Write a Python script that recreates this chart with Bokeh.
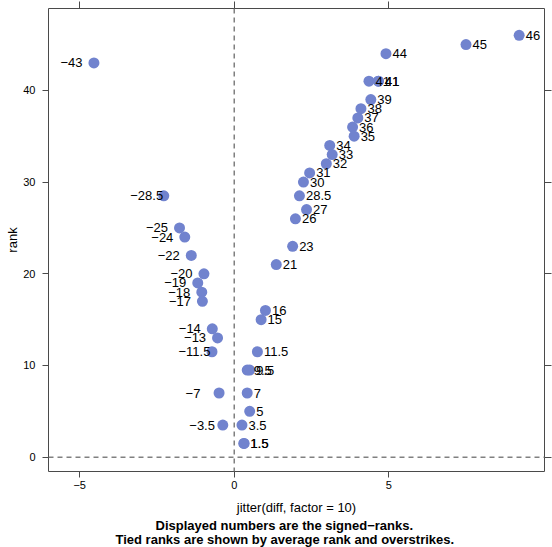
import numpy as np
from bokeh.plotting import figure
from bokeh.models import Range1d, LinearAxis, FixedTicker, Span, Title, ColumnDataSource
from bokeh.core.properties import value
from bokeh.embed import file_html
from bokeh.resources import INLINE

# ---- data ----
signed_ranks = [46, 45, 44, 41, 41, 41, 39, 38, 37, 36, 35, 34, 33, 32, 31, 30,
                28.5, 27, 26, 23, 21, 16, 15, 11.5, 9.5, 9.5, 7, 5, 3.5, 1.5, 1.5,
                -43, -28.5, -25, -24, -22, -20, -19, -18, -17, -14, -13, -11.5, -7, -3.5]
jitter_diff = [9.22, 7.50, 4.91, 4.36, 4.66, 4.67, 4.42, 4.10, 4.00, 3.83, 3.88, 3.09, 3.17, 2.98, 2.44, 2.24,
               2.11, 2.34, 1.98, 1.89, 1.36, 1.01, 0.87, 0.75, 0.42, 0.50, 0.42, 0.50, 0.25, 0.31, 0.32,
               -4.54, -2.28, -1.77, -1.60, -1.39, -0.98, -1.18, -1.05, -1.03, -0.71, -0.54, -0.72, -0.49, -0.37]
x_ticks = [-5, 0, 5]
y_ticks = [0, 10, 20, 30, 40]
x_label = "jitter(diff, factor = 10)"
y_label = "rank"
sub_lines = ["Displayed numbers are the signed\u2212ranks.",
             "Tied ranks are shown by average rank and overstrikes."]

FONT = "Liberation Sans"
PT = "#7183CE"
FRAME = "#4a4a4a"
MINUS = "\u2212"


def fmt(v):
    s = str(int(v)) if float(v).is_integer() else str(v)
    return s.replace("-", MINUS)


sr = np.array(signed_ranks, dtype=float)
jx = np.array(jitter_diff, dtype=float)
rk = np.abs(sr)
lab = [fmt(v) for v in sr]

all_src = ColumnDataSource(dict(x=jx, y=rk))
pos = sr > 0
pos_src = ColumnDataSource(dict(x=jx[pos], y=rk[pos], t=[l for l, m in zip(lab, pos) if m]))
neg_src = ColumnDataSource(dict(x=jx[~pos], y=rk[~pos], t=[l for l, m in zip(lab, pos) if not m]))

p = figure(width=552, height=547, output_backend="svg", toolbar_location=None,
           x_range=Range1d(-6.01, 10.04), y_range=Range1d(-1.56, 48.93),
           min_border_left=48, min_border_right=8, min_border_top=8, min_border_bottom=76,
           x_axis_location=None, y_axis_location=None)
p.xgrid.grid_line_color = None
p.ygrid.grid_line_color = None
p.outline_line_color = FRAME
p.outline_line_width = 1
p.background_fill_color = "white"
p.border_fill_color = "white"


def make_axis(ticks, tick_out, show_labels, standoff=5):
    ax = LinearAxis(ticker=FixedTicker(ticks=ticks))
    ax.axis_line_color = None
    ax.major_tick_in = 0
    ax.major_tick_out = tick_out
    ax.major_tick_line_color = FRAME
    ax.major_tick_line_width = 1
    ax.minor_tick_line_color = None
    ax.major_label_text_font = FONT
    ax.major_label_text_font_size = "11px"
    ax.major_label_text_color = "black"
    if show_labels:
        ax.major_label_standoff = standoff
        ax.major_label_overrides = {t: fmt(t) for t in ticks}
    else:
        ax.major_label_standoff = 0
        ax.major_label_overrides = {t: "" for t in ticks}
    return ax


bottom = make_axis(x_ticks, 6, True, 3)
bottom.axis_label = x_label
bottom.axis_label_text_font = FONT
bottom.axis_label_text_font_size = "13px"
bottom.axis_label_text_font_style = "normal"
bottom.axis_label_text_color = "black"
bottom.axis_label_standoff = 8
p.add_layout(bottom, "below")

left = make_axis(y_ticks, 6, True, 7)
left.axis_label = y_label
left.axis_label_text_font = FONT
left.axis_label_text_font_size = "13px"
left.axis_label_text_font_style = "normal"
left.axis_label_text_color = "black"
left.axis_label_standoff = 0
p.add_layout(left, "left")

p.add_layout(make_axis(x_ticks, 7, False), "above")
p.add_layout(make_axis(y_ticks, 7, False), "right")

title_offsets = [107, 67]
title_standoffs = [-4, -2]
for s, off, so in zip(sub_lines, title_offsets, title_standoffs):
    t = Title(text=s, align="left", offset=off, standoff=so,
              text_font=FONT, text_font_size="13px", text_font_style="bold", text_color="black")
    p.add_layout(t, "below")

# reference lines at zero
for dim in ("height", "width"):
    p.add_layout(Span(location=0, dimension=dim, line_color="#808080",
                      line_width=1.5, line_dash="5 4"))

p.scatter("x", "y", source=all_src, size=11, fill_color=PT, line_color=None)

p.text("x", "y", text="t", source=pos_src, x_offset=6.5, text_align="left",
       text_baseline="middle", text_font=value(FONT), text_font_size="13px", text_color="black")
p.text("x", "y", text="t", source=neg_src, x_offset=-33.5, text_align="left",
       text_baseline="middle", text_font=value(FONT), text_font_size="13px", text_color="black")

open("out.html", "w").write(file_html(p, INLINE))
